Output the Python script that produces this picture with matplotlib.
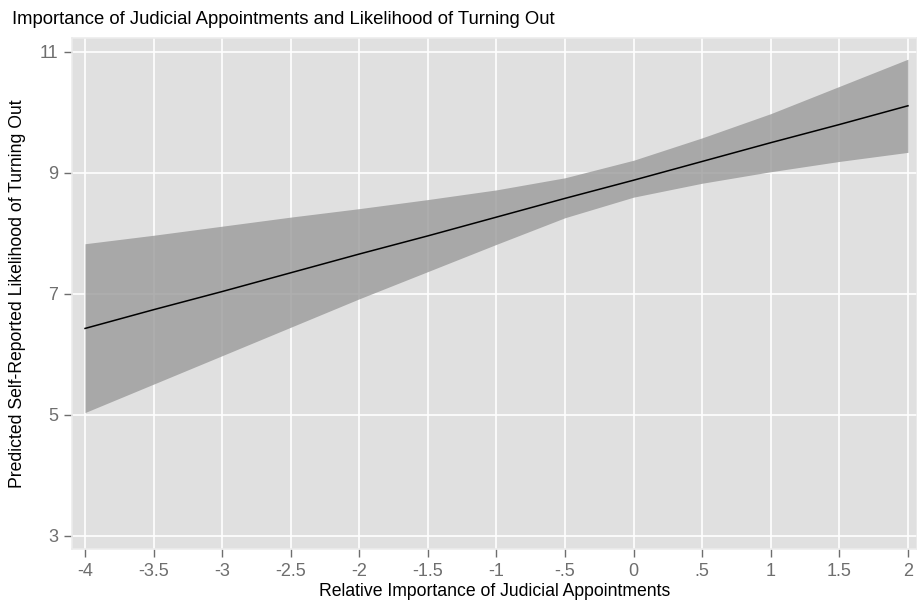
import numpy as np
import matplotlib.pyplot as plt

plt.rcParams['font.family'] = ['Liberation Sans', 'DejaVu Sans']

## values
x_vals = [-4, -3.5, -3, -2.5, -2, -1.5, -1, -0.5, 0, 0.5, 1, 1.5, 2]
pred = [6.43, 6.74, 7.04, 7.35, 7.66, 7.96, 8.27, 8.58, 8.88, 9.19, 9.50, 9.80, 10.11]
upper = [7.83, 7.97, 8.12, 8.27, 8.41, 8.56, 8.72, 8.92, 9.21, 9.58, 9.98, 10.43, 10.88]
lower = [5.04, 5.51, 5.98, 6.45, 6.92, 7.37, 7.82, 8.26, 8.60, 8.83, 9.02, 9.19, 9.34]

x_ticks = [-4, -3.5, -3, -2.5, -2, -1.5, -1, -0.5, 0, 0.5, 1, 1.5, 2]
x_labels = ['-4', '-3.5', '-3', '-2.5', '-2', '-1.5', '-1', '-.5', '0', '.5', '1', '1.5', '2']
y_ticks = [3, 5, 7, 9, 11]

W, H = 917, 606
fig = plt.figure(figsize=(W / 100, H / 100), dpi=100)
ax = fig.add_axes([72 / W, 1 - 549 / H, (917 - 72) / W, (549 - 38) / H])
ax.set_facecolor('#e0e0e0')

ax.fill_between(x_vals, lower, upper, color='#9a9a9a', alpha=0.8, linewidth=0, zorder=2)
ax.plot(x_vals, pred, color='black', linewidth=1.1, zorder=3)

ax.set_xlim(-4.095, 2.066)
ax.set_ylim(2.785, 11.23)
ax.set_xticks(x_ticks)
ax.set_xticklabels(x_labels)
ax.set_yticks(y_ticks)

ax.grid(True, color='white', linewidth=1.2, zorder=1)
ax.set_axisbelow(True)
for s in ax.spines.values():
    s.set_color('#ececec')
    s.set_linewidth(1.2)

ax.tick_params(axis='both', colors='#6e6e6e', labelcolor='#6e6e6e', labelsize=13,
               length=6, width=1, direction='out')
ax.tick_params(axis='x', pad=4)
ax.tick_params(axis='y', pad=4)

ax.set_xlabel('Relative Importance of Judicial Appointments', fontsize=12.7, color='black', labelpad=2)
ax.set_ylabel('Predicted Self-Reported Likelihood of Turning Out', fontsize=12.7, color='black', labelpad=10)
fig.text(12 / W, 1 - 20 / H, 'Importance of Judicial Appointments and Likelihood of Turning Out',
         fontsize=13.3, color='black', ha='left', va='center')

fig.savefig('out.png', dpi=100, facecolor='white')
